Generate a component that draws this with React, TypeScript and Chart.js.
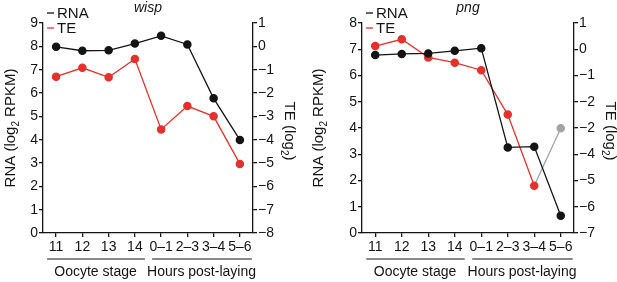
import React, { useEffect, useRef } from "react";
import { Chart, registerables } from "chart.js";

Chart.register(...registerables);

const categories = ["11", "12", "13", "14", "0–1", "2–3", "3–4", "5–6"];
const groupLabels = ["Oocyte stage", "Hours post-laying"];
const legendLabels = ["RNA", "TE"];

const wispRNA = [7.98, 7.81, 7.83, 8.12, 8.45, 8.08, 5.77, 3.99];
const wispTE = [-1.3, -0.92, -1.33, -0.54, -3.56, -2.56, -3.0, -5.04];
const wispRNATicks = ["0", "1", "2", "3", "4", "5", "6", "7", "8", "9"];
const wispTETicks = ["1", "0", "−1", "−2", "−3", "−4", "−5", "−6", "−7", "−8"];

const pngRNA = [6.78, 6.82, 6.84, 6.94, 7.04, 3.26, 3.29, 0.66];
const pngTE = [0.12, 0.38, -0.31, -0.51, -0.8, -2.49, -5.2, -3.01];
const pngRNATicks = ["0", "1", "2", "3", "4", "5", "6", "7", "8"];
const pngTETicks = ["1", "0", "−1", "−2", "−2", "−4", "−5", "−6", "−7"];

const BLACK = "#141414";
const RED = "#e5312c";
const GREY = "#a3a3a3";
const FONT = "'Liberation Sans', Arial, Helvetica, sans-serif";

type Part = [string, boolean];

function drawSubText(ctx: CanvasRenderingContext2D, parts: Part[], cx: number, cy: number, angle: number, size: number) {
  const subSize = Math.round(size * 0.68);
  ctx.save();
  ctx.translate(cx, cy);
  ctx.rotate(angle);
  ctx.textAlign = "left";
  ctx.textBaseline = "alphabetic";
  let total = 0;
  const widths: number[] = [];
  for (const [t, sub] of parts) {
    ctx.font = `${sub ? subSize : size}px ${FONT}`;
    const w = ctx.measureText(t).width;
    widths.push(w);
    total += w;
  }
  let x = -total / 2;
  const base = size * 0.36;
  parts.forEach(([t, sub], i) => {
    ctx.font = `${sub ? subSize : size}px ${FONT}`;
    ctx.fillText(t, x, sub ? base + size * 0.22 : base);
    x += widths[i];
  });
  ctx.restore();
}

interface PanelCfg {
  title: string;
  rna: number[];
  te: number[];
  rnaTicks: string[];
  teTicks: string[];
  rnaMax: number;
  teMin: number;
  teMax: number;
  leftWidth: number;
  rightWidth: number;
  greyLast: boolean;
}

function makePlugin(cfg: PanelCfg) {
  return {
    id: "extraTexts",
    afterDraw(chart: any) {
      const { ctx, chartArea, scales } = chart;
      const xs = scales.x;
      ctx.save();
      ctx.fillStyle = BLACK;
      ctx.strokeStyle = BLACK;
      // title
      ctx.font = `italic 14px ${FONT}`;
      ctx.textAlign = "center";
      ctx.textBaseline = "middle";
      ctx.fillText(cfg.title, (chartArea.left + chartArea.right) / 2, 8);
      // legend
      const lx = chartArea.left + 4;
      const colors = [BLACK, RED];
      const ly = [13, 28];
      legendLabels.forEach((lab, i) => {
        ctx.strokeStyle = colors[i];
        ctx.lineWidth = 1.3;
        ctx.beginPath();
        ctx.moveTo(lx, ly[i]);
        ctx.lineTo(lx + 7, ly[i]);
        ctx.stroke();
        ctx.fillStyle = BLACK;
        ctx.font = `15px ${FONT}`;
        ctx.textAlign = "left";
        ctx.textBaseline = "middle";
        ctx.fillText(lab, lx + 10, ly[i] + 1);
      });
      // axis titles
      ctx.fillStyle = BLACK;
      drawSubText(ctx, [["RNA (log", false], ["2", true], [" RPKM)", false]], 10, (chartArea.top + chartArea.bottom) / 2, -Math.PI / 2, 15);
      drawSubText(ctx, [["TE (log", false], ["2", true], [")", false]], chartArea.right + 37, (chartArea.top + chartArea.bottom) / 2 + 3, Math.PI / 2, 15);
      // group brackets
      const c0 = xs.getPixelForValue(0);
      const c3 = xs.getPixelForValue(3);
      const c4 = xs.getPixelForValue(4);
      const c7 = xs.getPixelForValue(7);
      const gy = 259;
      ctx.strokeStyle = BLACK;
      ctx.lineWidth = 1.2;
      ctx.beginPath();
      ctx.moveTo(c0 - 9, gy);
      ctx.lineTo(c3 + 10, gy);
      ctx.moveTo(c4 - 9, gy);
      ctx.lineTo(c7 + 12, gy);
      ctx.stroke();
      ctx.font = `14px ${FONT}`;
      ctx.textAlign = "center";
      ctx.textBaseline = "middle";
      ctx.fillText(groupLabels[0], (c0 + c3) / 2, 272);
      ctx.fillText(groupLabels[1], (c4 + c7) / 2 + 1, 272);
      ctx.restore();
    },
  };
}

function Panel({ cfg, width }: { cfg: PanelCfg; width: number }) {
  const ref = useRef<HTMLCanvasElement | null>(null);
  useEffect(() => {
    if (!ref.current) return;
    const n = cfg.te.length;
    const teColors = cfg.te.map((_, i) => (cfg.greyLast && i === n - 1 ? GREY : RED));
    const axisCommon = {
      border: { display: true, color: BLACK, width: 1.3 },
      grid: { drawOnChartArea: false, drawTicks: true, tickLength: 4, color: BLACK, lineWidth: 1.3 },
    };
    const chart = new Chart(ref.current, {
      type: "line",
      data: {
        labels: categories,
        datasets: [
          {
            label: legendLabels[0],
            data: cfg.rna,
            yAxisID: "y",
            borderColor: BLACK,
            backgroundColor: BLACK,
            pointBackgroundColor: BLACK,
            pointBorderColor: BLACK,
            borderWidth: 1.3,
            pointRadius: 3.6,
            tension: 0,
          },
          {
            label: legendLabels[1],
            data: cfg.te,
            yAxisID: "y2",
            borderColor: RED,
            backgroundColor: RED,
            pointBackgroundColor: teColors,
            pointBorderColor: teColors,
            borderWidth: 1.3,
            pointRadius: 3.6,
            tension: 0,
            segment: {
              borderColor: (c: any) => (cfg.greyLast && c.p1DataIndex === n - 1 ? GREY : RED),
            },
          },
        ],
      },
      options: {
        responsive: false,
        animation: false,
        devicePixelRatio: 1,
        layout: { padding: { top: 23, left: 0, right: 0, bottom: 0 } },
        plugins: { legend: { display: false }, tooltip: { enabled: false }, title: { display: false } },
        scales: {
          x: {
            type: "category",
            offset: true,
            ...axisCommon,
            grid: { ...axisCommon.grid, offset: false },
            ticks: { color: BLACK, font: { family: FONT, size: 14 }, padding: 2, maxRotation: 0, autoSkip: false },
            afterFit: (s: any) => {
              s.height = 49;
            },
          },
          y: {
            type: "linear",
            position: "left",
            min: 0,
            max: cfg.rnaMax,
            ...axisCommon,
            ticks: {
              stepSize: 1,
              color: BLACK,
              font: { family: FONT, size: 14 },
              padding: 1,
              callback: (v: any) => cfg.rnaTicks[Math.round(Number(v))] ?? "",
            },
            afterFit: (s: any) => {
              s.width = cfg.leftWidth;
            },
          },
          y2: {
            type: "linear",
            position: "right",
            min: cfg.teMin,
            max: cfg.teMax,
            ...axisCommon,
            ticks: {
              stepSize: 1,
              color: BLACK,
              font: { family: FONT, size: 14 },
              padding: 1,
              callback: (v: any) => cfg.teTicks[Math.round(cfg.teMax - Number(v))] ?? "",
            },
            afterFit: (s: any) => {
              s.width = cfg.rightWidth;
            },
          },
        },
      } as any,
      plugins: [makePlugin(cfg)],
    });
    return () => chart.destroy();
  }, [cfg]);
  return <canvas ref={ref} width={width} height={282} style={{ width, height: 282, display: "block" }} />;
}

const wispCfg: PanelCfg = {
  title: "wisp",
  rna: wispRNA,
  te: wispTE,
  rnaTicks: wispRNATicks,
  teTicks: wispTETicks,
  rnaMax: 9,
  teMin: -8,
  teMax: 1,
  leftWidth: 43,
  rightWidth: 55,
  greyLast: false,
};

const pngCfg: PanelCfg = {
  title: "png",
  rna: pngRNA,
  te: pngTE,
  rnaTicks: pngRNATicks,
  teTicks: pngTETicks,
  rnaMax: 8,
  teMin: -7,
  teMax: 1,
  leftWidth: 54,
  rightWidth: 43,
  greyLast: true,
};

export default function App() {
  return (
    <div style={{ position: "fixed", left: 0, top: 0, width: 617, height: 282, background: "#fff", display: "flex" }}>
      <Panel cfg={wispCfg} width={308} />
      <Panel cfg={pngCfg} width={309} />
    </div>
  );
}
